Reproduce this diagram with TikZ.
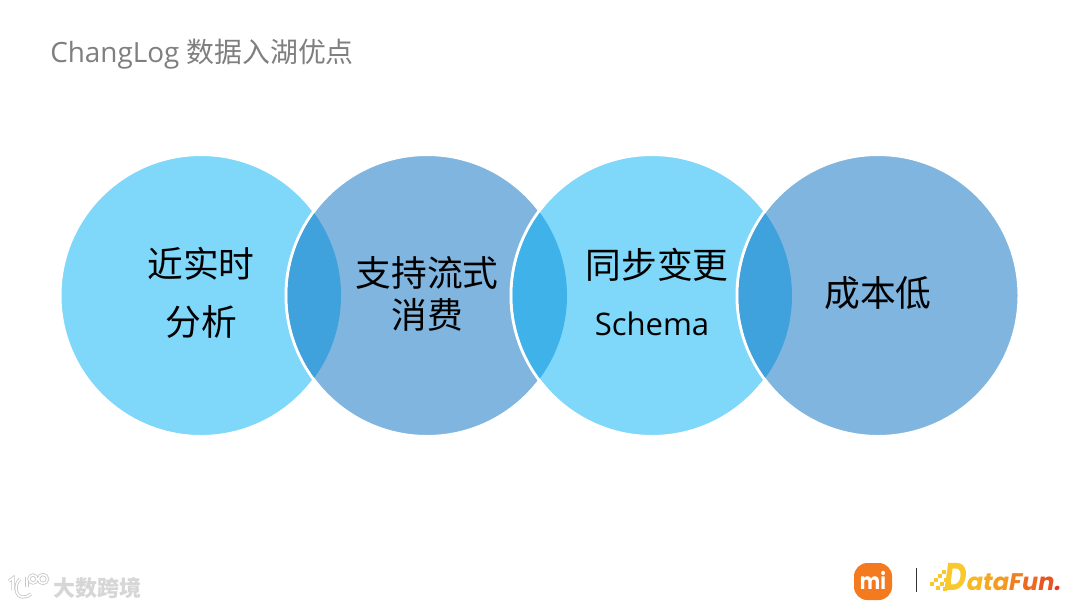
\documentclass[tikz,border=0pt]{standalone}
\usepackage{fontspec}
\setmainfont{Open Sans}
\newfontfamily\cjk{Noto Sans CJK SC}
\newfontfamily\brandfont{Poppins}
\usetikzlibrary{positioning}
\definecolor{LakeSky}{HTML}{7FD7F9}
\definecolor{LakeSteel}{HTML}{80B5DF}
\definecolor{LakeDeep}{HTML}{3FA2DC}
\definecolor{LakeBright}{HTML}{40B2EA}
\definecolor{LakeGrey}{HTML}{7F7F7F}
\definecolor{MiOrange}{HTML}{F47A20}
\definecolor{MarkGrey}{HTML}{D6D6D6}
\definecolor{FunA}{HTML}{F9C82C}
\definecolor{FunB}{HTML}{F8B81E}
\definecolor{FunC}{HTML}{F5A81F}
\definecolor{FunD}{HTML}{F39A1F}
\definecolor{FunE}{HTML}{F0801F}
\definecolor{FunF}{HTML}{EE6A20}
\definecolor{FunG}{HTML}{E85522}
\definecolor{FunH}{HTML}{E0392A}
\tikzset{
  bubble/.style={circle,draw=white,line width=2.25pt,minimum size=211.5pt,inner sep=0pt,outer sep=0pt},
  bigword/.style={font=\cjk\fontsize{26.8}{30}\selectfont,text=black,inner sep=0pt},
  markline/.style={draw=black!22,double=white,double distance=1.2pt,line width=.6pt},
}

\begin{document}
\begin{tikzpicture}[x=.75pt,y=-.75pt]
        \useasboundingbox (0,0) rectangle (1080,608);
        \fill[white] (0,0) rectangle (1080,608);

        \node[anchor=west,inner sep=0pt,text=LakeGrey,font=\fontsize{20.9}{24}\selectfont] (title) at (50,54) {ChangLog {\cjk 数据入湖优点}};

        \node[bubble,fill=LakeSky] (nearreal) at (201,295.5) {};
        \node[bubble,fill=LakeSteel] (stream) at (427,295.5) {};
        \node[bubble,fill=LakeSky] (schema) at (652,295.5) {};
        \node[bubble,fill=LakeSteel] (cost) at (878,295.5) {};

        \begin{scope}
          \clip (201,295.5) circle[radius=140];
          \clip (427,295.5) circle[radius=139.5];
          \fill[LakeDeep] (280,150) rectangle (350,440);
        \end{scope}
        \begin{scope}
          \clip (427,295.5) circle[radius=140];
          \clip (652,295.5) circle[radius=139.5];
          \fill[LakeBright] (505,150) rectangle (575,440);
        \end{scope}
        \begin{scope}
          \clip (652,295.5) circle[radius=140];
          \clip (878,295.5) circle[radius=139.5];
          \fill[LakeDeep] (731,150) rectangle (801,440);
        \end{scope}

        \node[bigword] (nearA) at (201,264) {近实时};
        \node[bigword] (nearB) at (201,322) {分析};
        \node[bigword] (streamA) at (427,273) {支持流式};
        \node[bigword] (streamB) at (427,315) {消费};
        \node[bigword] (schemaA) at (657,265) {同步变更};
        \node[inner sep=0pt,font=\fontsize{23.3}{26}\selectfont] (schemaB) at (652,324) {Schema};
        \node[bigword] (costA) at (878,293) {成本低};

        \fill[MiOrange,rounded corners=10pt] (854,563) rectangle (892,600);
        \node[text=white,inner sep=0pt,font=\brandfont\bfseries\fontsize{17}{18}\selectfont] (milogo) at (873,580) {\scalebox{.85}[1]{mi}};
        \fill[black!80] (915.5,568) rectangle (917,592);

        \foreach \dotx/\doty in {930/582,934/578,938/574,942/570,936/586,940/582,944/578,943/587,947/582}
          \fill[FunA] (\dotx,\doty) rectangle ++(3.5,3.5);
        \node[anchor=base west,inner sep=0pt,font=\brandfont\bfseries\itshape\fontsize{18}{24}\selectfont] (datafun) at (944,590)
          {\scalebox{.8}[1]{\color{FunA}\fontsize{29}{24}\selectfont D}{\color{FunB}a}{\color{FunC}t}{\color{FunD}a}{\color{FunE}F}{\color{FunF}u}{\color{FunG}n}{\color{FunH}.}};

        \draw[markline] (9,581) -- (13,578) -- (13,590);
        \draw[markline] (20,579) .. controls (14,584) and (15,597) .. (23,597) .. controls (26,597) and (29,596) .. (31,594);
        \draw[markline] (27,577) -- (27,587);
        \draw[markline] (33,579) circle[radius=4] (43,579) circle[radius=4.5];
        \node[anchor=west,inner sep=0pt,text=MarkGrey,font=\cjk\bfseries\fontsize{16.5}{20}\selectfont] (mark) at (53,588) {大数跨境};
      \end{tikzpicture}
\end{document}
